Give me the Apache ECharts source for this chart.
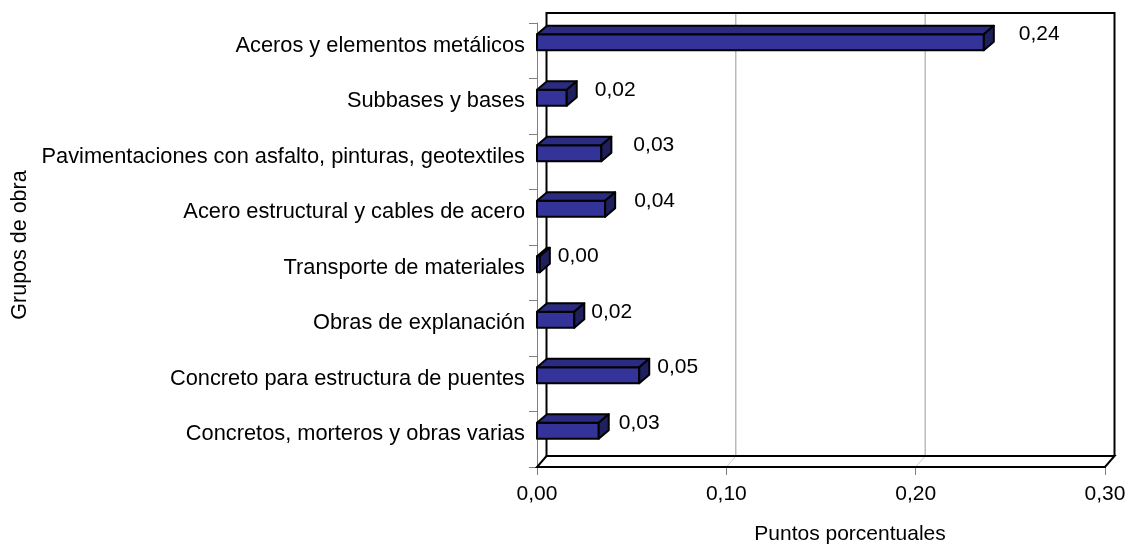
<!DOCTYPE html>
<html>
<head>
<meta charset="utf-8">
<title>Grupos de obra</title>
<script src="https://cdn.jsdelivr.net/npm/echarts@6/dist/echarts.min.js"></script>
<style>
    html, body { margin: 0; padding: 0; background: #fff; }
    #chart { width: 1131px; height: 546px; }
</style>
</head>
<body>
<div id="chart"></div>
<script>
// datos (de arriba hacia abajo)
var categories = [
    'Aceros y elementos metálicos',
    'Subbases y bases',
    'Pavimentaciones con asfalto, pinturas, geotextiles',
    'Acero estructural y cables de acero',
    'Transporte de materiales',
    'Obras de explanación',
    'Concreto para estructura de puentes',
    'Concretos, morteros y obras varias'
];
var values = [0.236, 0.0157, 0.034, 0.036, 0.0015, 0.0197, 0.054, 0.0326];
var xTicks = [0, 0.1, 0.2, 0.3];

// separación de la etiqueta respecto a la barra (como en el original)
var labelGap = [35, 28, 32, 29, 18, 17, 18, 20];

var FONT = '"Liberation Sans", Arial, sans-serif';

function fmt(v) {
    return v.toFixed(2).replace('.', ',');
}

// pequeño extend, sin jQuery
var $ = {
    extend: function (a, b) {
        for (var k in b) { a[k] = b[k]; }
        return a;
    }
};

/* pared del fondo y piso 3D */
function renderWall(params, api) {
    var cs = params.coordSys;
    var dx = 9.5, dy = -11;
    var left = cs.x, right = cs.x + cs.width;
    var top = cs.y - 10, bottom = cs.y + cs.height;
    var children = [];

    // líneas de división en la pared y el piso
    xTicks.slice(1, -1).forEach(function (t) {
        var px = api.coord([t, 0])[0];
        children.push({
            type: 'line',
            shape: { x1: px + dx, y1: top, x2: px + dx, y2: bottom + dy },
            style: { stroke: '#999', lineWidth: 1 }
        });
        children.push({
            type: 'line',
            shape: { x1: px + dx, y1: bottom + dy, x2: px, y2: bottom },
            style: { stroke: '#ccc', lineWidth: 1 }
        });
    });

    // marco de la pared
    children.push({
        type: 'polyline',
        shape: { points: [[left + dx, bottom + dy], [left + dx, top], [right + dx, top], [right + dx, bottom + dy]] },
        style: { stroke: '#000', lineWidth: 2, fill: null }
    });
    // piso
    children.push({
        type: 'polygon',
        shape: { points: [[left, bottom], [right, bottom], [right + dx, bottom + dy], [left + dx, bottom + dy]] },
        style: { stroke: '#000', lineWidth: 2, fill: 'none' }
    });

    return { type: 'group', children: children };
}

/* barra 3D */
function renderBar(params, api) {
    var idx = api.value(1);
    var val = api.value(0);
    var p0 = api.coord([0, idx]);
    var p1 = api.coord([val, idx]);
    var dx = 10, dy = -8.5, h = 16;
    var x0 = p0[0], x1 = p1[0];
    var y0 = p0[1] - 8.5 - h / 2, y1 = y0 + h;
    var line = { stroke: '#000', lineWidth: 2, lineJoin: 'round' };

    return {
        type: 'group',
        children: [
            {
                type: 'polygon',
                shape: { points: [[x0, y0], [x1, y0], [x1, y1], [x0, y1]] },
                style: $.extend({ fill: '#333399' }, line)
            },
            {
                type: 'polygon',
                shape: { points: [[x0, y0], [x1, y0], [x1 + dx, y0 + dy], [x0 + dx, y0 + dy]] },
                style: $.extend({ fill: '#2b2b82' }, line)
            },
            {
                type: 'polygon',
                shape: { points: [[x1, y0], [x1 + dx, y0 + dy], [x1 + dx, y1 + dy], [x1, y1]] },
                style: $.extend({ fill: '#1f1f5e' }, line)
            },
            {
                type: 'text',
                style: {
                    x: x1 + labelGap[params.dataIndex],
                    y: y0,
                    text: fmt(val),
                    fill: '#000',
                    font: '21px ' + FONT,
                    textAlign: 'left',
                    textVerticalAlign: 'middle'
                }
            }
        ]
    };
}

var chart = echarts.init(document.getElementById('chart'), null, { renderer: 'canvas' });

var option = {
    animation: false,
    textStyle: { fontFamily: FONT },
    grid: { left: 537, right: 26, top: 23, bottom: 79, containLabel: false, outerBoundsMode: 'none' },
    xAxis: {
        type: 'value',
        min: 0,
        max: 0.3,
        interval: 0.1,
        name: 'Puntos porcentuales',
        nameLocation: 'middle',
        nameGap: 57,
        nameTextStyle: { fontSize: 21, color: '#000', fontFamily: FONT, padding: [0, 0, 0, 58] },
        axisLine: { show: false },
        axisTick: { show: true, length: 8, lineStyle: { color: '#808080', width: 1 } },
        axisLabel: {
            margin: 17,
            fontSize: 21,
            color: '#000',
            fontFamily: FONT,
            formatter: function (v) { return fmt(v); }
        },
        splitLine: { show: false }
    },
    yAxis: {
        type: 'category',
        inverse: true,
        data: categories,
        name: 'Grupos de obra',
        nameLocation: 'middle',
        nameGap: 505,
        nameTextStyle: { fontSize: 21.5, color: '#000', fontFamily: FONT },
        axisLine: { show: true, lineStyle: { color: '#808080', width: 1 } },
        axisTick: { show: true, length: 8, lineStyle: { color: '#808080', width: 1 } },
        axisLabel: {
            margin: 12,
            fontSize: 21.8,
            color: '#000',
            fontFamily: FONT,
            verticalAlign: 'bottom',
            lineHeight: 10
        },
        splitLine: { show: false }
    },
    series: [
        {
            type: 'custom',
            name: 'pared',
            coordinateSystem: 'cartesian2d',
            renderItem: renderWall,
            data: [[0, 0]],
            encode: { x: 0, y: 1 },
            z: 1,
            silent: true
        },
        {
            type: 'custom',
            name: 'Grupos de obra',
            coordinateSystem: 'cartesian2d',
            renderItem: renderBar,
            data: values.map(function (v, i) { return [v, i]; }),
            encode: { x: 0, y: 1 },
            z: 2
        }
    ]
};

chart.setOption(option);
</script>
</body>
</html>
